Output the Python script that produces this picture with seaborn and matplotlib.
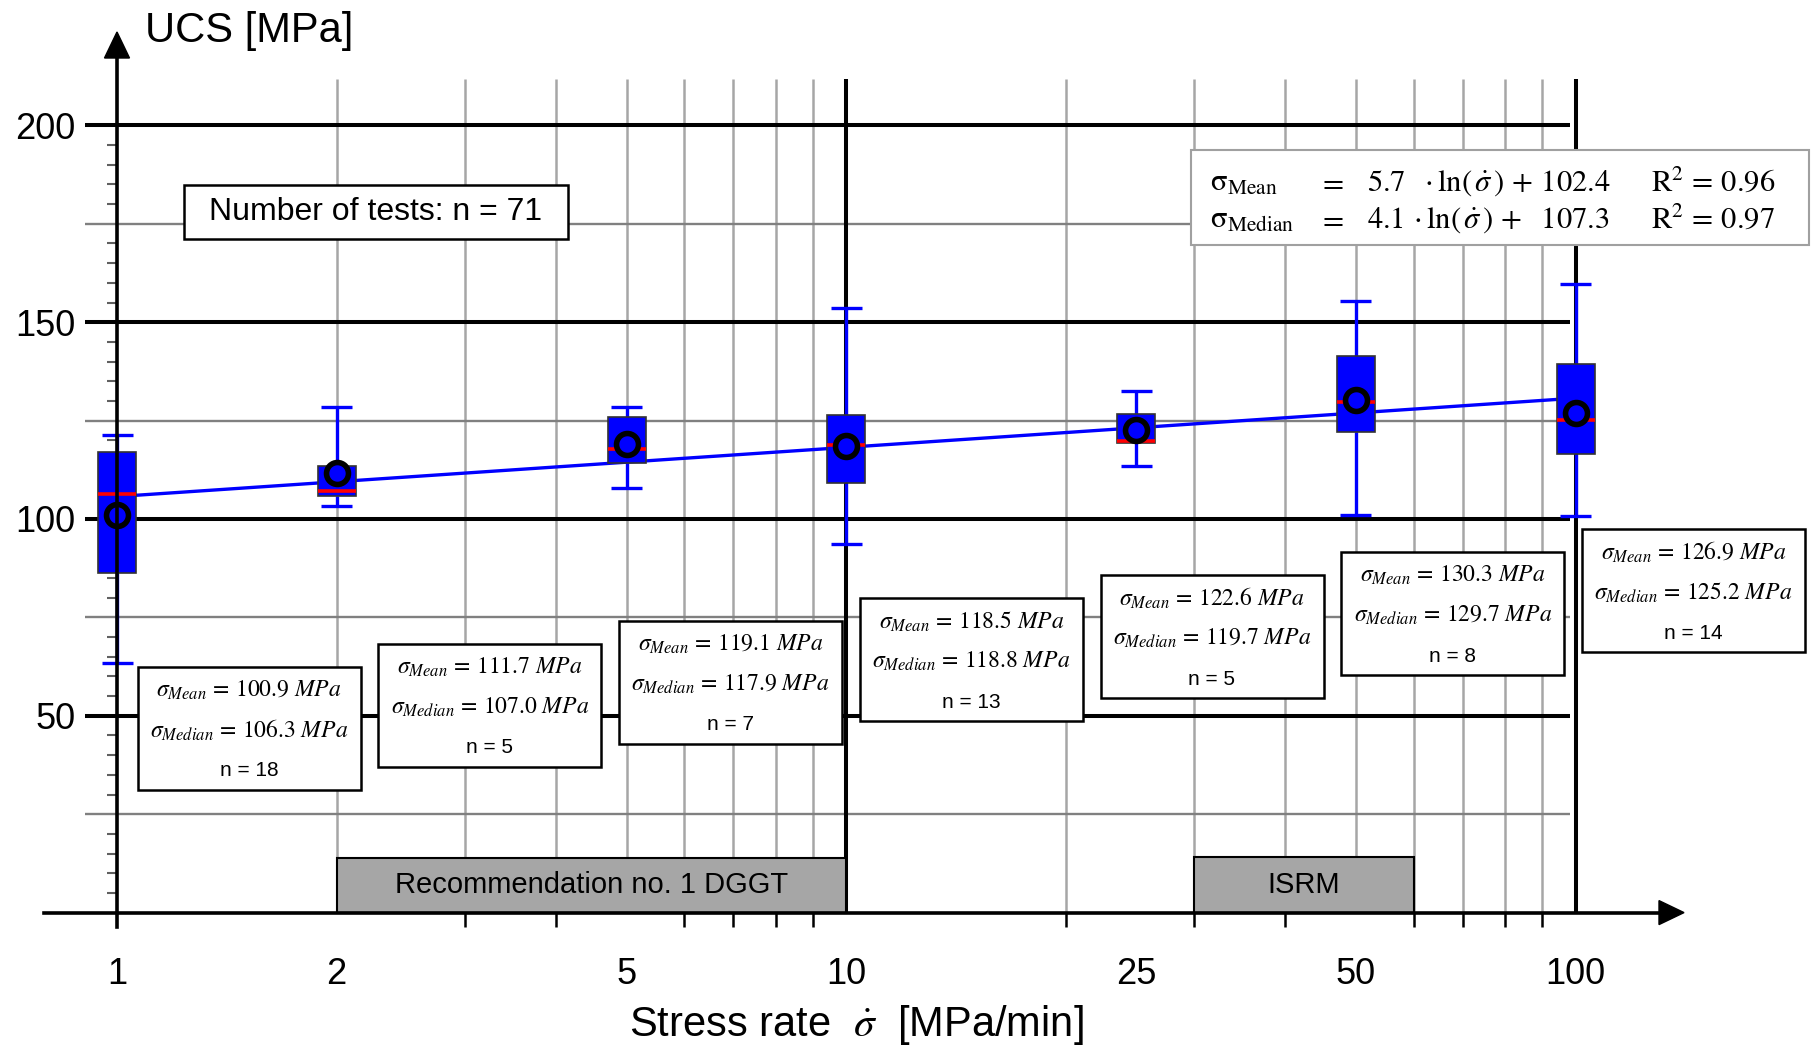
import numpy as np
import matplotlib
matplotlib.use("Agg")
import matplotlib.pyplot as plt
import seaborn as sns
from matplotlib.patches import Rectangle, Polygon
from matplotlib.ticker import NullFormatter

# ---- data -------------------------------------------------------------
rates = [1, 2, 5, 10, 25, 50, 100]                      # stress rate [MPa/min]
rate_labels = ["1", "2", "5", "10", "25", "50", "100"]
mean_ucs = [100.9, 111.7, 119.1, 118.5, 122.6, 130.3, 126.9]
median_ucs = [106.3, 107.0, 117.9, 118.8, 119.7, 129.7, 125.2]
q1_ucs = [86.4, 105.9, 114.3, 109.1, 119.2, 122.1, 116.4]
q3_ucs = [117.1, 113.5, 126.0, 126.3, 126.8, 141.4, 139.3]
whisker_low = [63.5, 103.4, 108.0, 93.6, 113.5, 101.0, 100.8]
whisker_high = [121.3, 128.5, 128.5, 153.7, 132.6, 155.5, 159.7]
n_tests = [18, 5, 7, 13, 5, 8, 14]
n_total = 71

fit_rate = [1, 100]
fit_ucs = [105.7, 130.7]

dggt_range = [2, 10]
isrm_range = [30, 60]

y_major = [50, 100, 150, 200]
y_half = [25, 75, 125, 175]
x_grid = [2, 3, 4, 5, 6, 7, 8, 9, 20, 30, 40, 50, 60, 70, 80, 90]
x_grid_bold = [10, 100]
x_minor_ticks = [1, 2, 3, 4, 5, 6, 7, 8, 9, 10, 20, 30, 40, 50, 60, 70, 80, 90, 100]

# ---- style ------------------------------------------------------------
sns.set_style("white")
plt.rcParams["font.family"] = ["Liberation Sans", "DejaVu Sans"]
plt.rcParams["mathtext.fontset"] = "stix"
plt.rcParams["text.color"] = "black"
plt.rcParams["xtick.color"] = "black"
plt.rcParams["ytick.color"] = "black"

BLUE = "#0000FF"
RED = "#FF0000"

W, H = 1811, 1045
fig = plt.figure(figsize=(W / 100, H / 100), dpi=100)
ax = fig.add_axes([0, 0, 1, 1])
ax.set_xscale("log")

X1_PX, DEC_PX = 117.0, 729.25     # pixel of x=1, pixels per decade
Y0_PX, UNIT_PX = 912.6, 3.936     # pixel of y=0, pixels per MPa
XLIM = (10 ** (-X1_PX / DEC_PX), 10 ** ((W - X1_PX) / DEC_PX))
YLIM = ((Y0_PX - H) / UNIT_PX, Y0_PX / UNIT_PX)


def fx(px):
    return px / W


def fy(py):
    return 1 - py / H


# ---- grid -------------------------------------------------------------
grid_top = 211.9
ax.vlines(x_grid, 0, grid_top, color="#A6A6A6", lw=1.8, zorder=0.5)
ax.vlines(x_grid_bold, 0, grid_top, color="black", lw=2.9, zorder=1)
h_left, h_right = 0.905, 98.4
ax.hlines(y_half, h_left, h_right, color="#808080", lw=1.7, zorder=0.8)
ax.hlines(y_major, h_left, h_right, color="black", lw=2.9, zorder=1)

# ---- box plots --------------------------------------------------------
HW = 19 / DEC_PX
CW = 15.5 / DEC_PX
for x, lo, q1, med, q3, hi in zip(rates, whisker_low, q1_ucs, median_ucs, q3_ucs, whisker_high):
    left, right = x * 10 ** -HW, x * 10 ** HW
    ax.vlines([x, x], [lo, q3], [q1, hi], color=BLUE, lw=2.4, zorder=3.5)
    ax.hlines([lo, hi], x * 10 ** -CW, x * 10 ** CW, color=BLUE, lw=2.4, zorder=3.5)
    ax.add_patch(Rectangle((left, q1), right - left, q3 - q1, fc=BLUE, ec="#333333",
                           lw=1.2, zorder=4))
    ax.hlines(med, left, right, color=RED, lw=2.6, zorder=5)

sns.lineplot(x=fit_rate, y=fit_ucs, color=BLUE, lw=2.4, ax=ax, zorder=3)
sns.scatterplot(x=rates, y=mean_ucs, s=250, color=BLUE, edgecolor="black",
                linewidth=4, ax=ax, zorder=6)
ax.set_xlabel("")
ax.set_ylabel("")

ax.set_xlim(*XLIM)
ax.set_ylim(*YLIM)

# ---- axes, ticks ------------------------------------------------------
for s in ("top", "right"):
    ax.spines[s].set_visible(False)
ax.spines["left"].set_position(("data", 1))
ax.spines["bottom"].set_position(("data", 0))
ax.spines["left"].set_bounds(-3.7, (Y0_PX - 57) / UNIT_PX)
ax.spines["bottom"].set_bounds(10 ** ((44 - X1_PX) / DEC_PX), 10 ** ((1662 - X1_PX) / DEC_PX))
for s in ("left", "bottom"):
    ax.spines[s].set_linewidth(2.6)
    ax.spines[s].set_color("black")
    ax.spines[s].set_zorder(7)

ax.set_xticks(rates, labels=rate_labels)
ax.set_xticks(x_minor_ticks, minor=True)
ax.xaxis.set_minor_formatter(NullFormatter())
ax.tick_params(axis="x", which="major", length=0, pad=32, labelsize=26, labelcolor="black")
ax.tick_params(axis="x", which="minor", length=10, width=1.8, direction="out",
               color="black", bottom=True)

ax.set_yticks(y_major)
ax.set_yticks([v for v in range(5, 200, 5) if v % 25], minor=True)
ax.yaxis.set_minor_formatter(NullFormatter())
ax.tick_params(axis="y", which="major", length=0, pad=30, labelsize=26, labelcolor="black")
ax.tick_params(axis="y", which="minor", length=7, width=1.5, direction="out",
               color="#606060", left=True)

# arrow heads
to_axes = ax.transAxes.inverted()
ox, oy = ax.transData.transform((1, 0))
tip_y = H - 32
ax.add_patch(Polygon([to_axes.transform(p) for p in
                      [(ox, tip_y), (ox - 12.5, H - 58), (ox + 12.5, H - 58)]],
                     closed=True, transform=ax.transAxes, fc="black", ec="black",
                     zorder=8, clip_on=False))
ax.add_patch(Polygon([to_axes.transform(p) for p in
                      [(1684, oy), (1659, oy + 12), (1659, oy - 12)]],
                     closed=True, transform=ax.transAxes, fc="black", ec="black",
                     zorder=8, clip_on=False))

# axis titles
ax.text(fx(145), fy(31), "UCS [MPa]", transform=ax.transAxes, fontsize=30,
        ha="left", va="center")
ax.text(fx(856), fy(1025), r"Stress rate  $\dot{\sigma}$  [MPa/min]",
        transform=ax.transAxes, fontsize=30, ha="center", va="center")

# ---- recommended ranges -------------------------------------------------
for (a, b), label, top in ((dggt_range, "Recommendation no. 1 DGGT", 13.9),
                           (isrm_range, "ISRM", 14.1)):
    ax.add_patch(Rectangle((a, 0), b - a, top, fc="#A6A6A6", ec="black", lw=1.5, zorder=6))
    ax.text(np.sqrt(a * b), top / 2, label, fontsize=21, ha="center", va="center", zorder=7)

# ---- statistics boxes ---------------------------------------------------
BOX_W, BOX_H = 223, 123
for i, (m, md, n) in enumerate(zip(mean_ucs, median_ucs, n_tests)):
    left = 137.7 + i * 240.7
    top = 666.7 - i * 22.9
    ax.add_patch(Rectangle((fx(left), fy(top + BOX_H)), BOX_W / W, BOX_H / H,
                           transform=ax.transAxes, fc="white", ec="black", lw=1.8, zorder=9))
    cx = fx(left + BOX_W / 2)
    ax.text(cx, fy(top + 23.5), rf"$\sigma_{{Mean}}\,=\,{m:.1f}\ MPa$", transform=ax.transAxes,
            fontsize=17, ha="center", va="center", zorder=10)
    ax.text(cx, fy(top + 63.5), rf"$\sigma_{{Median}}\,=\,{md:.1f}\ MPa$", transform=ax.transAxes,
            fontsize=17, ha="center", va="center", zorder=10)
    ax.text(cx, fy(top + 104), f"n = {n}", transform=ax.transAxes,
            fontsize=15, ha="center", va="center", zorder=10)

# total count
ax.add_patch(Rectangle((fx(183.6), fy(239.3)), (567.5 - 183.6) / W, (239.3 - 185) / H,
                       transform=ax.transAxes, fc="white", ec="black", lw=1.8, zorder=9))
ax.text(fx(375.5), fy(212), f"Number of tests: n = {n_total}", transform=ax.transAxes,
        fontsize=23, ha="center", va="center", zorder=10)

# regression equations
ax.add_patch(Rectangle((fx(1191), fy(245)), (1809 - 1191) / W, (245 - 150) / H,
                       transform=ax.transAxes, fc="white", ec="#A0A0A0", lw=1.5, zorder=9))
rows = [
    (191, r"$\mathrm{σ_{Mean}}$",
     r"$5.7\ \ \cdot \ln(\,\dot{\sigma}\,)\,+\,102.4$", r"$\mathrm{R^2}\,=\,0.96$"),
    (228, r"$\mathrm{σ_{Median}}$",
     r"$4.1\,\cdot \ln(\,\dot{\sigma}\,)\,+\ \ 107.3$", r"$\mathrm{R^2}\,=\,0.97$"),
]
for py, lhs, rhs, r2 in rows:
    kw = dict(transform=ax.transAxes, fontsize=22, va="baseline", zorder=10)
    ax.text(fx(1210), fy(py), lhs, ha="left", **kw)
    ax.text(fx(1331), fy(py), r"$=$", ha="center", **kw)
    ax.text(fx(1367), fy(py), rhs, ha="left", **kw)
    ax.text(fx(1651), fy(py), r2, ha="left", **kw)

fig.savefig("out.png", dpi=100)
